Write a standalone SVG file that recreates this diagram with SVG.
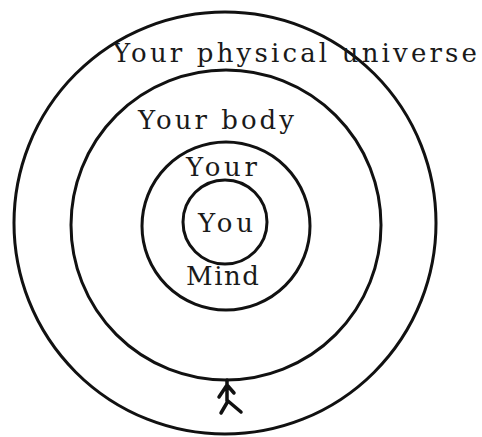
<svg xmlns="http://www.w3.org/2000/svg" width="482" height="437" viewBox="0 0 482 437">
<style>
.ring{fill:none;stroke:#111;stroke-width:3}
.lbl{font-family:"DejaVu Serif",serif;font-size:26px;fill:#1a1a1a}
.arw{fill:none;stroke:#111;stroke-width:3.5;stroke-linecap:round;stroke-linejoin:round}
</style>
<rect width="482" height="437" fill="#fff"/>
<g id="universe">
<circle class="ring" cx="225" cy="223" r="211"/>
<text class="lbl" x="113" y="62" textLength="364" lengthAdjust="spacing">Your physical universe</text>
</g>
<g id="body">
<circle class="ring" cx="226" cy="225" r="155"/>
<text class="lbl" x="138" y="129" textLength="156" lengthAdjust="spacing">Your body</text>
</g>
<g id="mind">
<circle class="ring" cx="226" cy="226" r="84"/>
<text class="lbl" x="186" y="176" textLength="71" lengthAdjust="spacing">Your</text>
<text class="lbl" x="186" y="285" textLength="73" lengthAdjust="spacing">Mind</text>
</g>
<g id="you">
<circle class="ring" cx="225" cy="222" r="42"/>
<text class="lbl" x="198" y="232" textLength="55" lengthAdjust="spacing">You</text>
</g>
<g id="connectors">
<path class="arw" d="M227 380 L227 401 M219 397 L227 385 L234 393 M221 413 L228 401 L241 412"/>
</g>
</svg>
